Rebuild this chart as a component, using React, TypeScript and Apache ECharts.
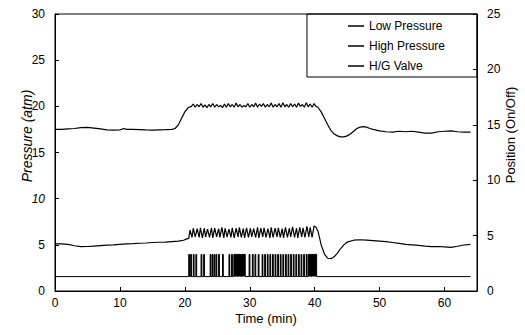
import React, { useEffect, useRef } from "react";
import * as echarts from "echarts";

// Time (min) -> pressure (atm) readings, upper trace (~17-20 atm)
const highPressure: [number, number][] = [
  [0, 17.5], [1, 17.5], [2, 17.55], [3, 17.6], [4, 17.7], [5, 17.72], [6, 17.65], [7, 17.55],
  [8, 17.45], [9, 17.42], [10, 17.45], [10.6, 17.6], [11, 17.5], [12, 17.5], [13, 17.48],
  [14, 17.45], [15, 17.43], [16, 17.45], [17, 17.47], [18, 17.5], [18.5, 17.6], [19, 18.0],
  [19.5, 18.7], [20, 19.4], [20.5, 19.85],
  [21.0, 20.0], [21.3, 20.25], [21.6, 19.9], [21.9, 20.2], [22.2, 19.95], [22.5, 20.3],
  [22.8, 19.9], [23.1, 20.15], [23.4, 19.85], [23.7, 20.2], [24.0, 19.95], [24.3, 20.3],
  [24.6, 19.9], [24.9, 20.2], [25.2, 19.95], [25.5, 20.1], [25.8, 19.85], [26.1, 20.25],
  [26.4, 19.9], [26.7, 20.3], [27.0, 19.95], [27.3, 20.2], [27.6, 19.9], [27.9, 20.35],
  [28.2, 19.95], [28.5, 20.2], [28.8, 19.9], [29.1, 20.1], [29.4, 19.95], [29.7, 20.3],
  [30.0, 19.9], [30.3, 20.2], [30.6, 19.95], [30.9, 20.35], [31.2, 19.9], [31.5, 20.25],
  [31.8, 20.0], [32.1, 20.3], [32.4, 19.9], [32.7, 20.2], [33.0, 19.95], [33.3, 20.35],
  [33.6, 19.9], [33.9, 20.2], [34.2, 19.95], [34.5, 20.3], [34.8, 19.9], [35.1, 20.4],
  [35.4, 19.95], [35.7, 20.2], [36.0, 19.9], [36.3, 20.3], [36.6, 19.95], [36.9, 20.25],
  [37.2, 19.9], [37.5, 20.35], [37.8, 20.0], [38.1, 20.2], [38.4, 19.9], [38.7, 20.4],
  [39.0, 19.95], [39.3, 20.25], [39.6, 19.9], [39.9, 20.3], [40.2, 20.0],
  [40.5, 19.9], [41, 19.4], [41.5, 18.7], [42, 18.0], [42.5, 17.4], [43, 17.0], [43.5, 16.8],
  [44, 16.7], [44.5, 16.7], [45, 16.8], [45.5, 17.0], [46, 17.3], [46.5, 17.6], [47, 17.75],
  [47.5, 17.8], [48, 17.75], [48.5, 17.6], [49, 17.5], [50, 17.35], [51, 17.25], [52, 17.2],
  [53, 17.3], [54, 17.25], [55, 17.3], [56, 17.2], [57, 17.1], [58, 17.1], [59, 17.25],
  [60, 17.3], [61, 17.35], [62, 17.25], [63, 17.2], [64, 17.2],
];

// Lower trace (~5 atm)
const lowPressure: [number, number][] = [
  [0, 5.1], [1, 5.1], [2, 5.05], [3, 4.9], [4, 4.8], [5, 4.82], [6, 4.87], [7, 4.92],
  [8, 4.97], [9, 5.0], [10, 5.05], [11, 5.1], [12, 5.13], [13, 5.17], [14, 5.2], [15, 5.25],
  [16, 5.28], [17, 5.3], [18, 5.35], [19, 5.4], [19.8, 5.5], [20.3, 5.65], [20.6, 5.7],
  [20.8, 6.6], [21.1, 5.8], [21.3, 6.8], [21.6, 5.85], [21.9, 6.75], [22.2, 5.8], [22.4, 6.85],
  [22.7, 5.75], [23.0, 6.8], [23.2, 5.85], [23.5, 6.7], [23.8, 5.8], [24.1, 6.85], [24.3, 5.75],
  [24.6, 6.8], [24.9, 5.85], [25.2, 6.75], [25.4, 5.8], [25.7, 6.9], [26.0, 5.75], [26.2, 6.8],
  [26.5, 5.85], [26.8, 6.7], [27.1, 5.8], [27.3, 6.85], [27.6, 5.75], [27.9, 6.8], [28.2, 5.85],
  [28.4, 6.9], [28.7, 5.8], [29.0, 6.75], [29.2, 5.75], [29.5, 6.85], [29.8, 5.8], [30.1, 6.8],
  [30.3, 5.85], [30.6, 6.75], [30.9, 5.8], [31.2, 6.9], [31.4, 5.75], [31.7, 6.8], [32.0, 5.85],
  [32.2, 6.85], [32.5, 5.8], [32.8, 6.75], [33.1, 5.75], [33.3, 6.9], [33.6, 5.8], [33.9, 6.8],
  [34.2, 5.85], [34.4, 6.85], [34.7, 5.8], [35.0, 6.75], [35.2, 5.75], [35.5, 6.9], [35.8, 5.8],
  [36.1, 6.8], [36.3, 5.85], [36.6, 6.95], [36.9, 5.8], [37.2, 6.8], [37.4, 5.75], [37.7, 6.9],
  [38.0, 5.85], [38.2, 6.85], [38.5, 5.8], [38.8, 7.0], [39.1, 5.85], [39.3, 6.9], [39.6, 5.8],
  [39.9, 7.05], [40.2, 6.9],
  [40.5, 6.5], [41, 5.0], [41.5, 4.0], [42, 3.55], [42.5, 3.5], [43, 3.7], [43.5, 4.1],
  [44, 4.6], [44.5, 5.0], [45, 5.3], [46, 5.5], [47, 5.55], [48, 5.5], [49, 5.45], [50, 5.4],
  [51, 5.35], [52, 5.25], [53, 5.15], [54, 5.05], [55, 5.0], [56, 4.95], [57, 4.85], [58, 4.8],
  [59, 4.82], [60, 4.78], [61, 4.73], [62, 4.85], [63, 4.98], [64, 5.05],
];

// H/G valve position (right axis): off / on levels and open intervals [start, end] in min
const valveOff = 1.3;
const valveOn = 3.3;
const valveSpan: [number, number] = [0, 64];
const valveOpen: [number, number][] = [
  [20.6, 20.72], [20.9, 21.02], [21.3, 21.42], [21.7, 21.82], [22.5, 22.62], [22.9, 23.02],
  [23.9, 24.02], [24.2, 24.32], [24.5, 24.62], [24.8, 24.92], [25.2, 25.32], [25.8, 25.92],
  [26.8, 26.92], [27.2, 27.32], [27.55, 28.1], [28.2, 28.7], [28.8, 29.3], [29.9, 30.02],
  [30.4, 30.52], [30.8, 30.92], [31.3, 31.42], [31.9, 32.02], [32.3, 32.42], [32.7, 32.82],
  [33.1, 33.22], [33.5, 33.62], [33.9, 34.02], [34.3, 34.42], [34.7, 34.82], [35.1, 35.22],
  [35.5, 35.62], [35.9, 36.02], [36.3, 36.42], [36.7, 36.82], [37.1, 37.22], [37.5, 37.62],
  [37.9, 38.02], [38.3, 38.42], [38.7, 38.82], [39.0, 39.5], [39.6, 40.3],
];

const FONT = "Liberation Sans";
const INK = "#000";

export default function App() {
  const ref = useRef<HTMLDivElement>(null);
  useEffect(() => {
    if (!ref.current) return;
    const chart = echarts.init(ref.current, undefined, { renderer: "svg" });

    const valveData: [number, number][] = [[valveSpan[0], valveOff]];
    valveOpen.forEach(([s, e]) => {
      valveData.push([s, valveOff], [s, valveOn], [e, valveOn], [e, valveOff]);
    });
    valveData.push([valveSpan[1], valveOff]);

    const lineStyle = { color: INK, width: 1.2 };
    const axisLabel = { color: INK, fontFamily: FONT, fontSize: 12 };

    chart.setOption({
      animation: false,
      grid: { left: 55, right: 48, top: 14, bottom: 44, show: true, borderColor: INK, borderWidth: 1 },
      legend: {
        orient: "vertical",
        right: 48,
        top: 14,
        borderColor: INK,
        borderWidth: 1,
        padding: [6, 32, 5, 41],
        itemGap: 8,
        itemWidth: 16,
        itemHeight: 1.5,
        icon: "rect",
        textStyle: { color: INK, fontFamily: FONT, fontSize: 12 },
        data: ["Low Pressure", "High Pressure", "H/G Valve"],
      },
      xAxis: {
        type: "value",
        min: 0,
        max: 65,
        interval: 10,
        axisLine: { lineStyle: { color: INK } },
        axisTick: { inside: true, length: 4, lineStyle: { color: INK } },
        splitLine: { show: false },
        axisLabel: { ...axisLabel, margin: 6, showMaxLabel: false },
      },
      yAxis: [
        {
          type: "value",
          min: 0,
          max: 30,
          interval: 5,
          axisLine: { show: true, lineStyle: { color: INK } },
          axisTick: { show: true, inside: true, length: 4, lineStyle: { color: INK } },
          splitLine: { show: false },
          axisLabel: {
            ...axisLabel,
            margin: 10,
            formatter: (v: number) => (v === 10 ? "{i|10}" : String(v)),
            rich: { i: { fontStyle: "italic", fontFamily: FONT, fontSize: 12, color: INK } },
          },
        },
        {
          type: "value",
          min: 0,
          max: 25,
          interval: 5,
          position: "right",
          axisLine: { show: true, lineStyle: { color: INK } },
          axisTick: { show: true, inside: true, length: 4, lineStyle: { color: INK } },
          splitLine: { show: false },
          axisLabel: { ...axisLabel, margin: 10 },
        },
      ],
      graphic: [
        {
          type: "text",
          x: 27,
          y: 136,
          rotation: Math.PI / 2,
          style: {
            text: "Pressure (atm)",
            fontFamily: FONT,
            fontSize: 14,
            fontStyle: "italic",
            fill: INK,
            align: "center",
            verticalAlign: "middle",
          },
        },
        {
          type: "text",
          x: 510,
          y: 135,
          rotation: Math.PI / 2,
          style: {
            text: "Position (On/Off)",
            fontFamily: FONT,
            fontSize: 13,
            fill: INK,
            align: "center",
            verticalAlign: "middle",
          },
        },
        {
          type: "text",
          x: 266,
          y: 318,
          style: {
            text: "Time (min)",
            fontFamily: FONT,
            fontSize: 13,
            fill: INK,
            align: "center",
            verticalAlign: "middle",
          },
        },
      ],
      series: [
        {
          name: "Low Pressure",
          type: "line",
          data: lowPressure,
          yAxisIndex: 0,
          symbol: "none",
          lineStyle,
          itemStyle: { color: INK },
        },
        {
          name: "High Pressure",
          type: "line",
          data: highPressure,
          yAxisIndex: 0,
          symbol: "none",
          lineStyle,
          itemStyle: { color: INK },
        },
        {
          name: "H/G Valve",
          type: "line",
          data: valveData,
          yAxisIndex: 1,
          symbol: "none",
          lineStyle: { color: INK, width: 1 },
          itemStyle: { color: INK },
          areaStyle: { color: INK, opacity: 1, origin: valveOff },
        },
      ],
    });
    return () => chart.dispose();
  }, []);
  return <div ref={ref} style={{ width: 525, height: 335, position: "absolute", left: 0, top: 0 }} />;
}
